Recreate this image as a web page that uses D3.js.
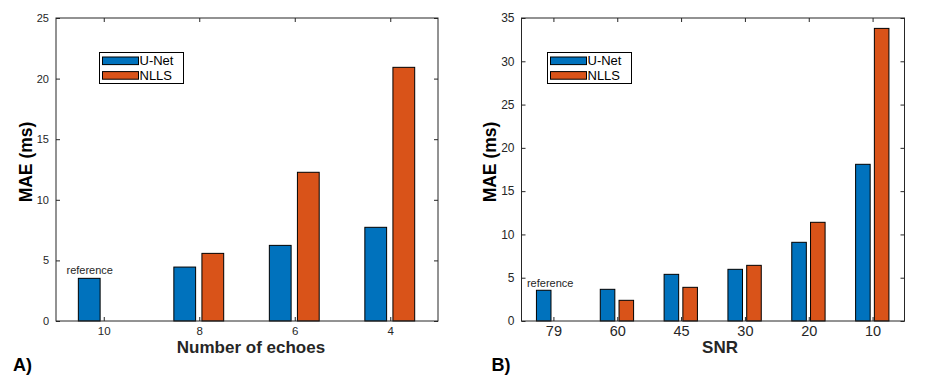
<!DOCTYPE html>
<html><head><meta charset="utf-8">
<script src="https://cdn.jsdelivr.net/npm/d3@7"></script>
<style>
body{margin:0;background:#fff;}
svg{display:block;font-family:"Liberation Sans",Arial,sans-serif;}
</style></head>
<body><svg id="c" width="928" height="380"></svg>
<script>
// Panel A data
const echoCategories = ["10","8","6","4"];
const echoUNet = [3.52, 4.45, 6.24, 7.73];
const echoNLLS = [null, 5.58, 12.27, 20.93];
const echoYTicks = [0,5,10,15,20,25];
// Panel B data
const snrCategories = ["79","60","45","30","20","10"];
const snrUNet = [3.55, 3.66, 5.39, 5.97, 9.09, 18.1];
const snrNLLS = [null, 2.39, 3.89, 6.43, 11.4, 33.8];
const snrYTicks = [0,5,10,15,20,25,30,35];
const seriesNames = ["U-Net","NLLS"];
const seriesColors = ["#0072BD","#D95319"];

const svg = d3.select("#c");
const ink = "#262626";

function panel(o){
  const g = svg.append("g");
  const x = d3.scaleLinear().domain([0.5, o.cats.length+0.5]).range([o.left,o.right]);
  const y = d3.scaleLinear().domain([0, o.ymax]).range([o.bottom,o.top]);
  const step = x(2)-x(1);
  const bw = step*0.228;
  const offs = [-0.152, 0.142];
  [o.u, o.n].forEach((vals,si)=>{
    g.selectAll(null).data(vals.map((v,i)=>({v,i}))).enter()
      .filter(d=>d.v!=null)
      .append("rect")
      .attr("x",d=>x(d.i+1)+offs[si]*step-bw/2)
      .attr("width",bw)
      .attr("y",d=>y(d.v))
      .attr("height",d=>y(0)-y(d.v))
      .attr("fill",seriesColors[si])
      .attr("stroke","#000").attr("stroke-width",1);
  });
  // box
  g.append("rect").attr("x",o.left).attr("y",o.top).attr("width",o.right-o.left).attr("height",o.bottom-o.top)
    .attr("fill","none").attr("stroke",ink).attr("stroke-width",1);
  const tl = 4;
  // y ticks
  const yAxis = d3.axisLeft(y).tickValues(o.yticks).tickSize(-tl).tickPadding(7).tickFormat(d3.format("d"));
  const ya = g.append("g").attr("transform",`translate(${o.left},0)`).call(yAxis);
  ya.select(".domain").remove();
  ya.selectAll("line").attr("stroke",ink);
  ya.selectAll("text").attr("fill",ink).style("font-size",o.yfs+"px").attr("font-family","Liberation Sans,Arial,sans-serif");
  const yaR = g.append("g").attr("transform",`translate(${o.right},0)`).call(d3.axisRight(y).tickValues(o.yticks).tickSize(-tl).tickFormat(""));
  yaR.select(".domain").remove(); yaR.selectAll("line").attr("stroke",ink);
  // x ticks
  const xt = o.cats.map((c,i)=>i+1);
  const xAxis = d3.axisBottom(x).tickValues(xt).tickSize(-tl).tickPadding(o.xpad).tickFormat((d)=>o.cats[d-1]);
  const xa = g.append("g").attr("transform",`translate(0,${o.bottom})`).call(xAxis);
  xa.select(".domain").remove();
  xa.selectAll("line").attr("stroke",ink);
  xa.selectAll("text").attr("fill",ink).style("font-size",o.xfs+"px").attr("font-family","Liberation Sans,Arial,sans-serif");
  const xaT = g.append("g").attr("transform",`translate(0,${o.top})`).call(d3.axisTop(x).tickValues(xt).tickSize(-tl).tickFormat(""));
  xaT.select(".domain").remove(); xaT.selectAll("line").attr("stroke",ink);
  // reference annotation
  g.append("text").attr("x",x(o.refPos[0])).attr("y",y(o.refPos[1])).attr("dy","0.35em")
    .attr("fill",ink).style("font-size","11px").text("reference");
  // axis titles
  g.append("text").attr("x",o.xtX).attr("y",353.3).attr("text-anchor","middle")
    .attr("fill",ink).style("font-size","17px").style("font-weight","bold").text(o.xtitle);
  g.append("text").attr("transform",`translate(${o.ytX},162) rotate(-90)`).attr("text-anchor","middle")
    .attr("fill","#000").style("font-size","17.5px").style("font-weight","bold").text("MAE (ms)");
  // panel letter
  g.append("text").attr("x",o.letterX).attr("y",371).attr("fill","#000")
    .style("font-size","18px").style("font-weight","bold").text(o.letter);
  // legend
  const lg = g.append("g").attr("transform",`translate(${o.legX},52.5)`);
  lg.append("rect").attr("width",84).attr("height",31).attr("fill","#fff").attr("stroke","#000").attr("stroke-width",1);
  seriesNames.forEach((s,i)=>{
    lg.append("rect").attr("x",3).attr("y",4.5+i*14.6).attr("width",36).attr("height",7.6)
      .attr("fill",seriesColors[i]).attr("stroke","#000").attr("stroke-width",1);
    lg.append("text").attr("x",40).attr("y",8.3+i*14.6).attr("dy","0.36em")
      .attr("fill","#000").style("font-size","13px").text(s);
  });
}

panel({cats:echoCategories,u:echoUNet,n:echoNLLS,yticks:echoYTicks,ymax:25,
  left:56,right:438,top:18,bottom:321,yfs:11,xfs:11.5,xpad:6,
  refPos:[0.61,4.18],xtitle:"Number of echoes",xtX:251,ytX:31.5,letter:"A)",letterX:13,legX:99.5});
panel({cats:snrCategories,u:snrUNet,n:snrNLLS,yticks:snrYTicks,ymax:35,
  left:521.5,right:904.5,top:18,bottom:321,yfs:12,xfs:14.5,xpad:5,
  refPos:[0.585,4.42],xtitle:"SNR",xtX:720,ytX:495.5,letter:"B)",letterX:491.5,legX:547.5});
</script></body></html>
